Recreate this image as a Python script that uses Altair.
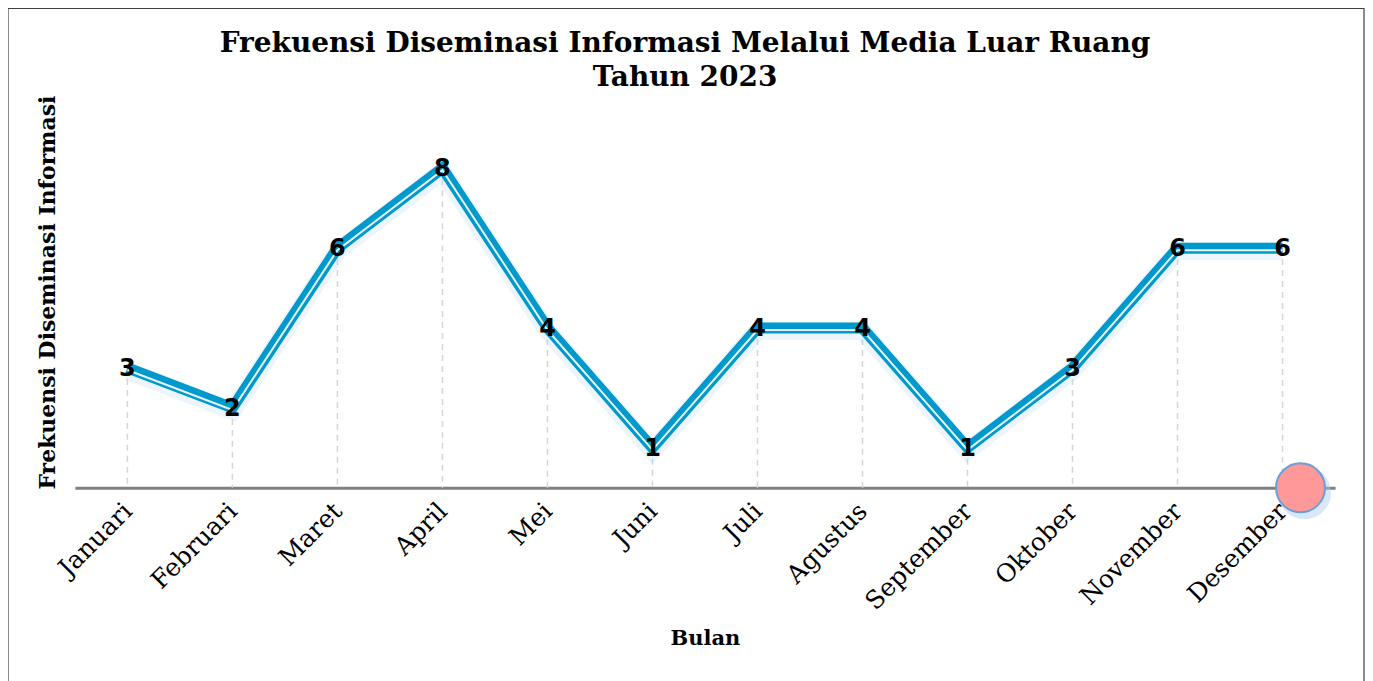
import altair as alt
import pandas as pd

months = ["Januari", "Februari", "Maret", "April", "Mei", "Juni", "Juli",
          "Agustus", "September", "Oktober", "November", "Desember"]
values = [3, 2, 6, 8, 4, 1, 4, 4, 1, 3, 6, 6]

title_lines = ["Frekuensi Diseminasi Informasi Melalui Media Luar Ruang", "Tahun 2023"]
x_title = "Bulan"
y_title = "Frekuensi Diseminasi Informasi"

df = pd.DataFrame({"Bulan": months, "Nilai": values})
one = pd.DataFrame({"Bulan": ["Desember"], "Nilai": [0]})

W, H = 1262, 392
SERIF = "DejaVu Serif"

x = alt.X("Bulan:N", sort=months,
          scale=alt.Scale(type="point", padding=0.5),
          axis=alt.Axis(title=x_title, labelAngle=-45, labelAlign="right", labelBaseline="middle",
                        labelFont=SERIF, labelFontSize=25, labelColor="#000000", labelPadding=19,
                        ticks=False, grid=False, domainColor="#808080", domainWidth=3,
                        titleFont=SERIF, titleFontSize=21, titleFontWeight="bold",
                        titleColor="#000000", titleBaseline="alphabetic", titleY=157))
y = alt.Y("Nilai:Q", scale=alt.Scale(domain=[0, 9.8], nice=False),
          axis=alt.Axis(title=y_title, labels=False, ticks=False, domain=False, grid=False,
                        titleFont=SERIF, titleFontSize=22, titleFontWeight="bold",
                        titleColor="#000000", titleAngle=-90, titleBaseline="middle",
                        titleX=-27, titleY=196))

base = alt.Chart(df)

border = alt.Chart(pd.DataFrame({"a": [0]})).mark_rect(
    fill=None, stroke="#404040", strokeWidth=1.2
).encode(x=alt.value(-67), x2=alt.value(W + 29), y=alt.value(-88), y2=alt.value(H + 320))

drops = base.mark_rule(color="#d6d6d6", strokeWidth=1.5, strokeDash=[6, 5]).encode(
    x=x, y=y, y2=alt.datum(0))

glow = base.mark_line(color="#a8cff0", strokeWidth=18, opacity=0.22, yOffset=3,
                      strokeJoin="miter").encode(x=x, y=y)
line = base.mark_line(color="#0099CC", strokeWidth=11, strokeJoin="miter").encode(x=x, y=y)
inner = base.mark_line(color="#ffffff", strokeWidth=2, yOffset=2, opacity=0.9,
                       strokeJoin="miter").encode(x=x, y=y)

labels = base.mark_text(font="DejaVu Sans", fontWeight="bold", fontSize=24,
                        baseline="middle", align="center", color="#000000", dy=1).encode(
    x=x, y=y, text="Nilai:Q")

dot_glow = alt.Chart(one).mark_point(filled=True, shape="circle", size=2800, color="#a9cbee",
                                     opacity=0.45, xOffset=22, yOffset=5).encode(
    x=alt.X("Bulan:N", sort=months), y=alt.Y("Nilai:Q"))
dot = alt.Chart(one).mark_point(filled=True, shape="circle", size=2400, fill="#FF9999",
                                stroke="#6b9fd6", strokeWidth=2, opacity=1, xOffset=18).encode(
    x=alt.X("Bulan:N", sort=months), y=alt.Y("Nilai:Q"))

chart = alt.layer(border, drops, glow, line, inner, labels, dot_glow, dot).properties(
    width=W, height=H,
    background="#ffffff",
    autosize=alt.AutoSizeParams(type="none"),
    padding={"left": 67, "top": 88, "right": 30, "bottom": 200},
    title=alt.TitleParams(title_lines, font=SERIF, fontSize=28, fontWeight="bold",
                          color="#000000", anchor="middle", dx=-20, dy=90, offset=6,
                          lineHeight=34),
).configure_view(stroke="transparent", strokeWidth=0)

chart.save("out.html", embed_options={"renderer": "svg", "actions": False})
